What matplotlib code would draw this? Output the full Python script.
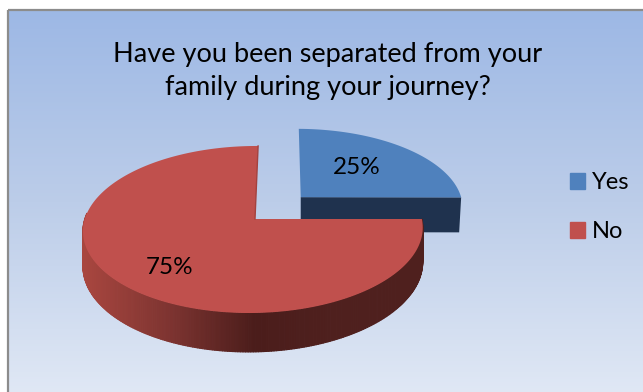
#!/usr/bin/env python3
import numpy as np
import matplotlib
matplotlib.use('Agg')
import matplotlib.pyplot as plt
from matplotlib.collections import PolyCollection
from matplotlib.colors import LinearSegmentedColormap
from matplotlib.patches import Patch, Rectangle

labels = ['Yes', 'No']
shares = [25, 75]
share_text = ['25%', '75%']
title = 'Have you been separated from your\nfamily during your journey?'

plt.rcParams['font.family'] = ['Lato', 'DejaVu Sans']

# projection of the tilted pie plane into pixel coordinates
CX, CY = 255.0, 219.0
BX, AY = 168.5, 82.2
SKEW = -3.5
KV, KU = 0.1257, -0.010
DEPTH = 34.0
EXPLODE = 0.39


def project(u, v):
    w = 1 - KV * v - KU * u
    return CX + (BX * u + SKEW * v) / w, CY + AY * v / w, DEPTH / w


def wedge_top(a0, a1, du=0.0, dv=0.0, n=180):
    t = np.radians(np.linspace(a0, a1, n))
    u = np.r_[0, np.cos(t)] + du
    v = np.r_[0, -np.sin(t)] + dv
    x, y, _ = project(u, v)
    return np.c_[x, y]


def rim_quads(a0, a1, n=240):
    t = np.radians(np.linspace(a0, a1, n))
    x, y, d = project(np.cos(t), -np.sin(t))
    quads = [[(x[i], y[i]), (x[i + 1], y[i + 1]),
              (x[i + 1], y[i + 1] + d[i + 1]), (x[i], y[i] + d[i])]
             for i in range(n - 1)]
    return quads, (x[:-1] + x[1:]) / 2


fig = plt.figure(figsize=(6.43, 3.92), dpi=100)
ax = fig.add_axes([0, 0, 1, 1])
ax.axis('off')

# chart area with vertical gradient and grey frame
bg = LinearSegmentedColormap.from_list('bg', ['#9db8e5', '#bccde9', '#e0e8f5'])
ax.imshow(np.linspace(0, 1, 256)[:, None], cmap=bg, aspect='auto',
          extent=[8, 645, 394, 10], zorder=0)
ax.set_xlim(0, 643)
ax.set_ylim(392, 0)
ax.add_patch(Rectangle((8, 10), 640, 390, fill=False, ec='#8c8c8c', lw=1.6, zorder=1))

# slices start at 12 o'clock and run clockwise
ends = np.cumsum(shares) / np.sum(shares) * 360
yes_a0, yes_a1 = 90 - ends[0], 90.0
no_a0, no_a1 = 90 - ends[1], 90 - ends[0]

# exploded slice moves out along its bisector
mid = np.radians((yes_a0 + yes_a1) / 2)
du, dv = EXPLODE * np.cos(mid), -EXPLODE * np.sin(mid)

# blue slice: front cut face, then top
x0, y0, d0 = project(du, dv)
x1, y1, d1 = project(1 + du, dv)
ax.fill([x0, x1, x1 - 2, x0], [y0, y1, y1 + DEPTH + 1, y0 + DEPTH + 1],
        color='#1f324e', lw=0, zorder=2)
pts = wedge_top(yes_a0, yes_a1, du, dv)
ax.fill(pts[:, 0], pts[:, 1], color='#4f81bd', lw=0, zorder=3)

# red slice: shaded rim along the near half, then top
side = LinearSegmentedColormap.from_list('side', ['#a8463f', '#7e3431', '#4b1d1b', '#4f201e'])
quads, xm = rim_quads(-184, no_a1)
rim = PolyCollection(quads, array=np.clip((xm - 85) / 255, 0, 1), cmap=side,
                     edgecolors='face', linewidths=0.8, zorder=4)
ax.add_collection(rim)
pts = wedge_top(no_a0, no_a1)
ax.fill(pts[:, 0], pts[:, 1], color='#c0504d', lw=0, zorder=5)

# inner wall of the red slice, seen edge on
wall_x, wall_y, _ = project(np.array([0.0, 0.0]), np.array([0.0, -1.0]))
ax.plot(wall_x, wall_y, color='#a4423f', lw=1.0, zorder=5)

ax.text(357, 167, share_text[0], fontsize=17.5, ha='center', va='center', color='black', zorder=6)
ax.text(169.5, 267, share_text[1], fontsize=17.5, ha='center', va='center', color='black', zorder=6)

ax.text(327.5, 71, title, fontsize=19.5, ha='center', va='center', color='black',
        linespacing=1.4, zorder=6)

handles = [Patch(color='#4f81bd'), Patch(color='#c0504d')]
ax.legend(handles, labels, loc='upper left', bbox_to_anchor=(570 / 643, 1 - 172 / 392),
          frameon=False, fontsize=17, handlelength=0.64, handleheight=0.64,
          handletextpad=0.28, labelspacing=1.19, borderpad=0, borderaxespad=0)

fig.savefig('out.png', dpi=100)
